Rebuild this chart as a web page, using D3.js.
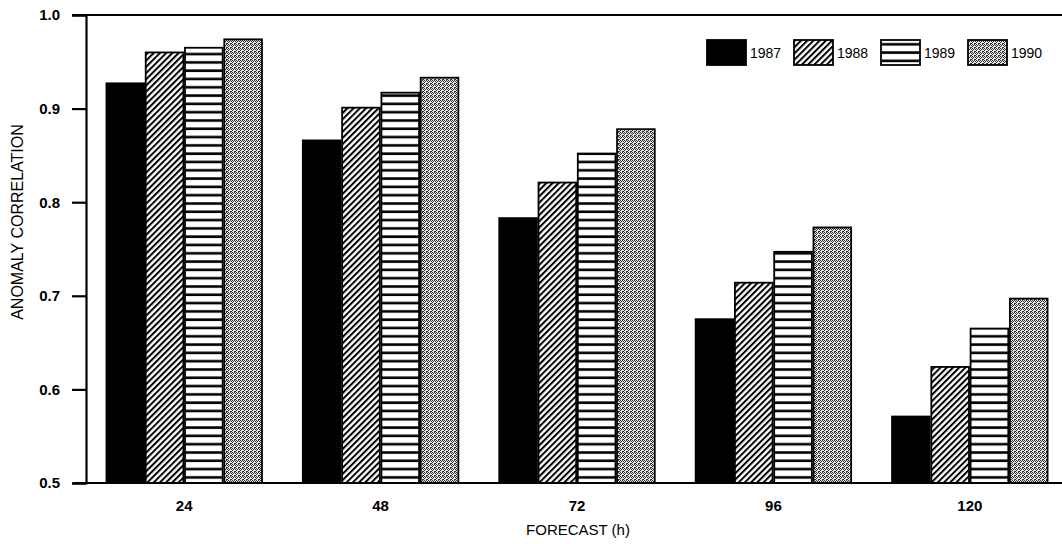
<!DOCTYPE html>
<html>
<head>
<meta charset="utf-8">
<script src="https://cdn.jsdelivr.net/npm/d3@7"></script>
<style>
  body { margin: 0; background: #fff; }
  text { font-family: "Liberation Sans", Arial, sans-serif; fill: #000; }
</style>
</head>
<body>
<div class="chart"></div>
<script>
// DATA ------------------------------------**
const hours = ['24', '48', '72', '96', '120'];
const years = ['1987', '1988', '1989', '1990'];
const acc1987 = [0.927, 0.866, 0.783, 0.675, 0.571];
const acc1988 = [0.960, 0.901, 0.821, 0.714, 0.624];
const acc1989 = [0.965, 0.917, 0.852, 0.747, 0.665];
const acc1990 = [0.974, 0.933, 0.878, 0.773, 0.697];
const yTicks = [0.5, 0.6, 0.7, 0.8, 0.9, 1.0];

const series = [acc1987, acc1988, acc1989, acc1990];
const rows = [];
hours.forEach((h, i) => {
    years.forEach((yr, j) => {
        rows.push({hour: h, year: yr, value: series[j][i]});
    });
});

// CHART INIT ------------------------------**
const W = 1062, H = 544;
const plotLeft = 86, plotRight = 1062, plotTop = 15, plotBottom = 483;

const svg = d3.select('.chart').append('svg')
    .attr('width', W)
    .attr('height', H)
    .style('display', 'block');

svg.append('rect').attr('width', W).attr('height', H).attr('fill', '#fff');

// patterns
const defs = svg.append('defs');

const hatch = defs.append('pattern')
    .attr('id', 'hatch')
    .attr('patternUnits', 'userSpaceOnUse')
    .attr('width', 4.4)
    .attr('height', 4.4)
    .attr('patternTransform', 'rotate(45)');
hatch.append('rect').attr('width', 4.4).attr('height', 4.4).attr('fill', '#fff');
hatch.append('rect').attr('width', 2).attr('height', 4.4).attr('fill', '#000');

const stripes = defs.append('pattern')
    .attr('id', 'stripes')
    .attr('patternUnits', 'userSpaceOnUse')
    .attr('width', 10)
    .attr('height', 8.3);
stripes.append('rect').attr('width', 10).attr('height', 8.3).attr('fill', '#fff');
stripes.append('rect').attr('y', 3).attr('width', 10).attr('height', 2.6).attr('fill', '#000');

const dots = defs.append('pattern')
    .attr('id', 'dots')
    .attr('patternUnits', 'userSpaceOnUse')
    .attr('width', 4)
    .attr('height', 4);
dots.append('rect').attr('width', 4).attr('height', 4).attr('fill', '#e4e4e4');
[[0,0],[2,0],[1,1],[3,1],[0,2],[2,3],[3,3]].forEach(p => {
    dots.append('rect').attr('x', p[0]).attr('y', p[1])
        .attr('width', 1).attr('height', 1).attr('fill', '#333');
});

const fills = {'1987': '#000', '1988': 'url(#hatch)', '1989': 'url(#stripes)', '1990': 'url(#dots)'};

// scales
const x0 = d3.scaleBand()
    .domain(hours)
    .range([plotLeft, 1068])
    .paddingInner(0.2)
    .paddingOuter(0.1);

const x1 = d3.scaleBand()
    .domain(years)
    .range([0, x0.bandwidth()]);

const yScale = d3.scaleLinear()
    .domain([0.5, 1.0])
    .range([plotBottom, plotTop]);

// BARS ------------------------------------**
svg.append('g').selectAll('rect')
    .data(rows)
    .enter()
    .append('rect')
    .attr('x', d => x0(d.hour) + x1(d.year) + 0.8)
    .attr('y', d => yScale(d.value))
    .attr('width', x1.bandwidth() - 1.6)
    .attr('height', d => plotBottom - yScale(d.value))
    .attr('fill', d => fills[d.year])
    .attr('stroke', '#000')
    .attr('stroke-width', 1.8);

// AXES ------------------------------------**
const yAxis = d3.axisLeft(yScale)
    .tickValues(yTicks)
    .tickFormat(d3.format('.1f'))
    .tickSize(14)
    .tickPadding(12);

const yAxisGroup = svg.append('g')
    .attr('class', 'axis y-axis')
    .attr('transform', 'translate(' + plotLeft + ',0)')
    .call(yAxis);
yAxisGroup.select('.domain').attr('stroke-width', 2.2);
yAxisGroup.selectAll('.tick line').attr('stroke-width', 2.2);
yAxisGroup.selectAll('text')
    .attr('font-size', 15)
    .attr('font-weight', 'bold')
    .attr('font-family', '"Liberation Sans", Arial, sans-serif');

const xAxis = d3.axisBottom(x0)
    .tickSize(0)
    .tickPadding(17);

const xAxisGroup = svg.append('g')
    .attr('class', 'axis x-axis')
    .attr('transform', 'translate(0,' + plotBottom + ')')
    .call(xAxis);
xAxisGroup.select('.domain').remove();
xAxisGroup.selectAll('text')
    .attr('font-size', 15)
    .attr('font-weight', 'bold')
    .attr('font-family', '"Liberation Sans", Arial, sans-serif');

// top and bottom frame lines
svg.append('line')
    .attr('x1', 72).attr('x2', plotRight)
    .attr('y1', yScale(1.0)).attr('y2', yScale(1.0))
    .attr('stroke', '#000').attr('stroke-width', 2.2);
svg.append('line')
    .attr('x1', 74).attr('x2', plotRight)
    .attr('y1', yScale(0.5)).attr('y2', yScale(0.5))
    .attr('stroke', '#000').attr('stroke-width', 2.2);

// axis titles
svg.append('text')
    .attr('transform', 'translate(23,' + 222 + ') rotate(-90)')
    .attr('text-anchor', 'middle')
    .attr('font-size', 16)
    .text('ANOMALY CORRELATION');

svg.append('text')
    .attr('x', 578)
    .attr('y', 535)
    .attr('text-anchor', 'middle')
    .attr('font-size', 15)
    .text('FORECAST (h)');

// LEGEND ----------------------------------**
const legend = svg.append('g')
    .selectAll('g')
    .data(years)
    .enter()
    .append('g')
    .attr('transform', (d, i) => 'translate(' + (707 + i * 87) + ',40)');

legend.append('rect')
    .attr('width', 39)
    .attr('height', 25)
    .attr('fill', d => fills[d])
    .attr('stroke', '#000')
    .attr('stroke-width', 1.8);

legend.append('text')
    .attr('x', 43)
    .attr('y', 18)
    .attr('font-size', 14)
    .text(d => d);
</script>
</body>
</html>
